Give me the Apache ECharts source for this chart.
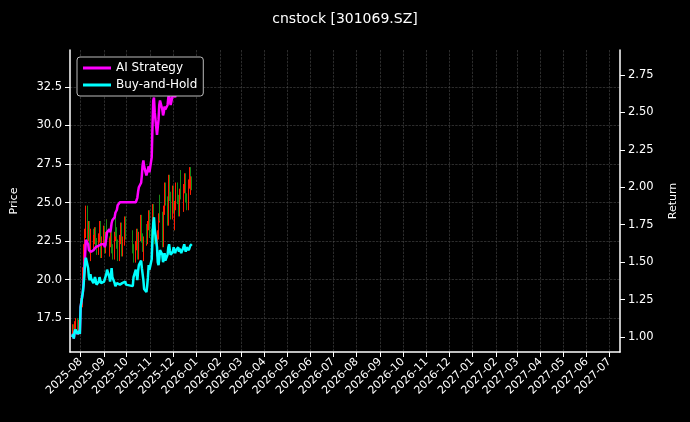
<!DOCTYPE html>
<html>
<head>
<meta charset="utf-8">
<script src="https://cdn.jsdelivr.net/npm/echarts@6/dist/echarts.min.js"></script>
<style>html,body{margin:0;background:#000}#main{width:690px;height:422px}</style>
</head>
<body>
<div id="main"></div>
<script>
// 收盘价 (109 个交易日, 2025-07-21 ~ 2025-12-31)
var closes = [16.6,16.8,16.5,17.0,17.2,16.9,16.7,17.1,16.8,
  18.5,20.5,22.0,21.5,23.0,24.5,22.8,23.5,22.0,21.5,23.0,22.2,
  22.6,23.1,22.4,21.9,22.7,23.5,22.3,21.7,22.5,23.2,22.0,
  22.8,23.6,22.5,21.8,22.4,23.2,22.0,21.6,22.8,24.0,23.1,22.3,21.5,22.6,23.4,22.1,21.8,
  22.5,23.8,22.9,22.0,21.4,22.2,23.0,22.4,21.6,22.8,23.9,22.7,22.1,21.5,22.5,23.3,22.6,
  23.5,24.2,23.0,22.4,23.8,24.6,23.5,22.6,21.8,22.9,24.0,25.2,24.1,23.0,22.4,24.5,26.0,25.1,23.8,24.9,
  26.5,25.4,24.2,25.8,24.6,23.5,24.8,26.0,25.2,24.4,25.6,26.8,25.5,24.7,25.9,26.6,25.3,24.8,26.2,27.0,25.8,26.4,26.1]
var bhReturn = [1.00,1.02,0.99,1.03,1.05,1.02,1.01,1.04,1.02,
  1.20,1.30,1.35,1.42,1.50,1.53,1.46,1.40,1.38,1.42,1.39,1.36,
  1.37,1.40,1.38,1.35,1.37,1.40,1.38,1.36,1.35,1.37,1.38,
  1.38,1.42,1.45,1.40,1.37,1.41,1.46,1.40,1.36,1.34,1.33,1.36,1.35,1.35,1.36,1.35,1.36,
  1.36,1.37,1.35,1.34,1.40,1.45,1.42,1.38,1.44,1.48,1.51,1.46,1.42,1.38,1.32,1.30,1.34,
  1.40,1.48,1.45,1.52,1.65,1.76,1.80,1.72,1.60,1.50,1.48,1.52,1.58,1.55,1.50,1.52,1.56,1.51,1.55,1.60,
  1.62,1.58,1.55,1.57,1.60,1.58,1.56,1.58,1.60,1.57,1.59,1.58,1.56,1.60,1.62,1.59,1.57,1.60,1.58,1.59,1.61,1.60,1.62]
var aiReturn = [1.00,1.02,0.99,1.03,1.05,1.02,1.01,1.04,1.02,
  1.20,1.30,1.36,1.45,1.55,1.65,1.62,1.58,1.57,1.58,1.57,1.58,
  1.58,1.59,1.60,1.60,1.61,1.62,1.61,1.62,1.63,1.62,1.60,
  1.60,1.66,1.70,1.72,1.70,1.72,1.76,1.78,1.80,1.83,1.82,1.85,1.88,1.90,1.90,1.90,1.90,
  1.90,1.90,1.90,1.90,1.90,1.90,1.90,1.93,1.97,2.00,2.03,2.08,2.15,2.18,2.14,2.08,2.10,
  2.12,2.14,2.10,2.20,2.40,2.58,2.60,2.50,2.35,2.34,2.45,2.55,2.58,2.52,2.48,2.50,2.54,2.52,2.55,2.60,
  2.62,2.58,2.55,2.62,2.66,2.62,2.60,2.64,2.68,2.65,2.70,2.72,2.68,2.74,2.76,2.72,2.70,2.74,2.72,2.73,2.75,2.74,2.76]
var priceTicks = [17.5,20,22.5,25,27.5,30,32.5]
var returnTicks = [1.00,1.25,1.50,1.75,2.00,2.25,2.50,2.75]

// 交易日: 工作日, 跳过国庆假期
var dates = []
var d = new Date(2025, 6, 21)
while (dates.length < closes.length) {
  var wd = d.getDay()
  var holiday = d.getMonth() == 9 && d.getDate() <= 8
  if (wd != 0 && wd != 6 && !holiday) dates.push(d.getTime())
  d = new Date(d.getFullYear(), d.getMonth(), d.getDate() + 1)
}
var monthTicks = []
for (var m = 0; m < 24; m++) monthTicks.push(new Date(2025, 7 + m, 1).getTime())

var candles = closes.map(function (c, i) {
  var o = i == 0 ? c : closes[i - 1]
  return [dates[i], o, c, Math.min(o, c) - 0.3, Math.max(o, c) + 0.3]
})
var pair = function (arr) { return arr.map(function (v, i) { return [dates[i], v] }) }

var grid = '#4a4a4a'
var font = 'DejaVu Sans'
var chart = echarts.init(document.getElementById('main'))
chart.setOption({
  backgroundColor: '#000',
  animation: false,
  textStyle: { fontFamily: font },
  title: { text: 'cnstock [301069.SZ]', left: 'center', top: 7,
    textStyle: { color: '#fff', fontSize: 14, fontWeight: 'normal', fontFamily: font } },
  legend: {
    left: 77, top: 57, orient: 'vertical', itemGap: 5, itemWidth: 28, itemHeight: 3,
    borderColor: '#bbb', borderWidth: 1, borderRadius: 3, padding: [5, 6],
    backgroundColor: '#000',
    textStyle: { color: '#fff', fontSize: 12, fontFamily: font },
    data: [{ name: 'AI Strategy', icon: 'rect' }, { name: 'Buy-and-Hold', icon: 'rect' }]
  },
  grid: { left: 70, right: 70, top: 50, bottom: 70 },
  xAxis: {
    type: 'value',
    min: new Date(2025, 6, 18).getTime(),
    max: new Date(2027, 6, 15).getTime(),
    axisLine: { lineStyle: { color: '#fff', width: 1.5 } },
    axisTick: { customValues: monthTicks, lineStyle: { color: '#fff' } },
    axisLabel: {
      customValues: monthTicks, rotate: 45, color: '#fff', fontSize: 11, fontFamily: font,
      formatter: function (v) {
        var t = new Date(v), mm = t.getMonth() + 1
        return t.getFullYear() + '-' + (mm < 10 ? '0' : '') + mm
      }
    },
    splitLine: { show: true, lineStyle: { color: grid, type: 'dashed', width: 0.6 } }
  },
  yAxis: [{
    type: 'value', name: 'Price', nameLocation: 'middle', nameGap: 50,
    nameTextStyle: { color: '#fff', fontSize: 11, fontFamily: font },
    min: 15.3, max: 34.9,
    axisLine: { show: true, lineStyle: { color: '#fff', width: 1.5 } },
    axisTick: { show: true, customValues: priceTicks, lineStyle: { color: '#fff' } },
    axisLabel: { customValues: priceTicks, color: '#fff', fontSize: 11.5, fontFamily: font,
      formatter: function (v) { return v.toFixed(1) } },
    splitLine: { show: true, lineStyle: { color: grid, type: 'dashed', width: 0.6 } }
  }, {
    type: 'value', name: 'Return', nameLocation: 'middle', nameGap: 48, nameRotate: 90,
    nameTextStyle: { color: '#fff', fontSize: 11, fontFamily: font },
    min: 0.9, max: 2.917,
    axisLine: { show: true, lineStyle: { color: '#fff', width: 1.5 } },
    axisTick: { show: true, customValues: returnTicks, lineStyle: { color: '#fff' } },
    axisLabel: { customValues: returnTicks, color: '#fff', fontSize: 11.5, fontFamily: font,
      formatter: function (v) { return v.toFixed(2) } },
    splitLine: { show: false }
  }],
  series: [{
    type: 'candlestick', name: 'Price', data: candles, barMaxWidth: 1,
    itemStyle: { color: '#ff1a00', color0: '#158a15', borderColor: '#ff1a00', borderColor0: '#158a15' }
  }, {
    type: 'line', name: 'AI Strategy', yAxisIndex: 1, data: pair(aiReturn), showSymbol: false,
    lineStyle: { color: '#ff00ff', width: 2.5 }, itemStyle: { color: '#ff00ff' }
  }, {
    type: 'line', name: 'Buy-and-Hold', yAxisIndex: 1, data: pair(bhReturn), showSymbol: false,
    lineStyle: { color: '#00ffff', width: 2.5 }, itemStyle: { color: '#00ffff' }
  }]
})
</script>
</body>
</html>
